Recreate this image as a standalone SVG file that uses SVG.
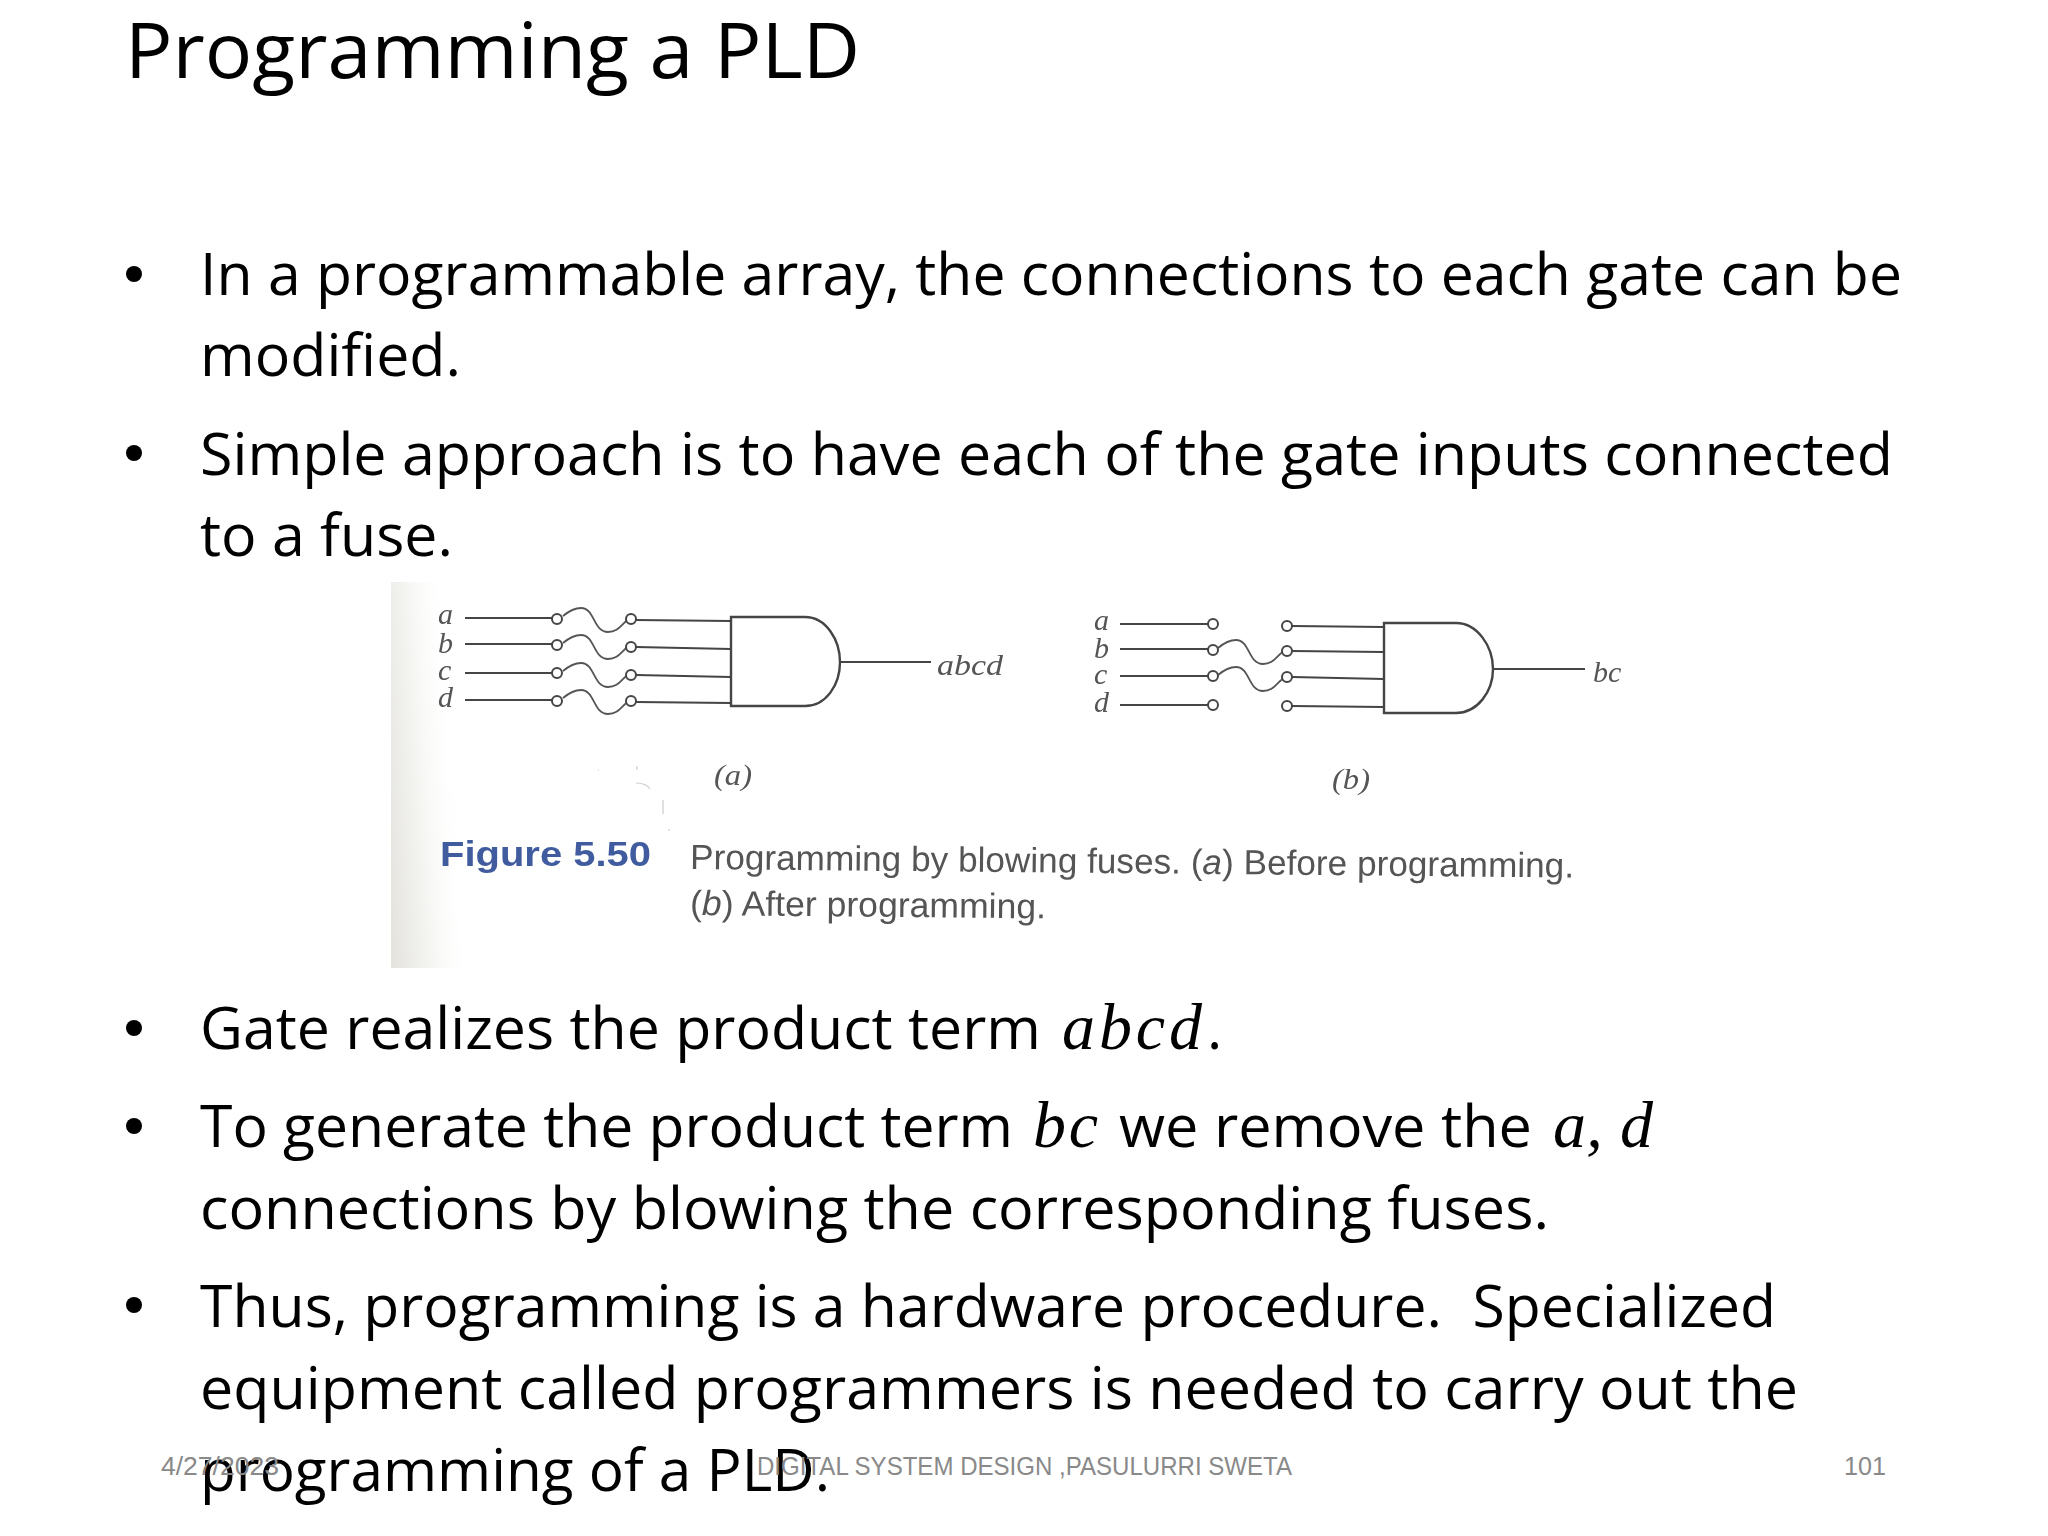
<svg xmlns="http://www.w3.org/2000/svg" width="2048" height="1536" viewBox="0 0 2048 1536">
<style>
text{font-family:"Open Sans","Noto Sans","Liberation Sans",sans-serif;fill:#000}
.title{font-size:76px;font-weight:400}
.body{font-size:58px}
.math{font-family:"Liberation Serif",serif;font-style:italic;font-size:66px}
.foot{font-family:"Liberation Sans",sans-serif;font-size:26px;fill:#898989}
.lbl{font-family:"Liberation Serif",serif;font-style:italic;font-size:30px;fill:#555}
.cap{font-family:"Liberation Sans",sans-serif;font-size:35px;fill:#555}
.fig{font-family:"Liberation Sans",sans-serif;font-weight:bold;font-size:35px;fill:#3f5c9f}
.w{fill:none;stroke:#444;stroke-width:2}
.f{fill:none;stroke:#555;stroke-width:1.8}
.o{fill:#fff;stroke:#444;stroke-width:2}
.g{fill:#fff;stroke:#444;stroke-width:2.4}
</style>
<defs>
<linearGradient id="edge" x1="0" x2="1" y1="0.95" y2="0.6"><stop offset="0" stop-color="#e4e3de"/><stop offset="0.45" stop-color="#f3f3f0"/><stop offset="1" stop-color="#fff" stop-opacity="0"/></linearGradient>
<path id="fuse" d="M0 0C6 -5 11 -8 18 -8C32 -8 30 16 45 16C56 16 58 8 66 3"/>
<circle id="pin" r="5"/>
<filter id="soft"><feGaussianBlur stdDeviation="0.6"/></filter>
</defs>
<rect width="2048" height="1536" fill="#fff"/>
<text class="title" x="125" y="78" textLength="735" lengthAdjust="spacingAndGlyphs">Programming a PLD</text>
<g id="bullets">
<circle cx="134" cy="274" r="8"/><circle cx="134" cy="453" r="8"/><circle cx="134" cy="1028" r="8"/><circle cx="134" cy="1126" r="8"/><circle cx="134" cy="1305" r="8"/>
</g>
<g id="body">
<text class="body" x="200" y="295" textLength="1702" lengthAdjust="spacingAndGlyphs">In a programmable array, the connections to each gate can be</text>
<text class="body" x="200" y="376" textLength="261" lengthAdjust="spacingAndGlyphs">modified.</text>
<text class="body" x="200" y="475" textLength="1693" lengthAdjust="spacingAndGlyphs">Simple approach is to have each of the gate inputs connected</text>
<text class="body" x="200" y="556" textLength="253" lengthAdjust="spacingAndGlyphs">to a fuse.</text>
<text class="body" x="200" y="1049" textLength="841" lengthAdjust="spacingAndGlyphs">Gate realizes the product term</text>
<text class="math" x="1062" y="1049" textLength="140">abcd</text>
<text class="body" x="1207" y="1049">.</text>
<text class="body" x="200" y="1147" textLength="813" lengthAdjust="spacingAndGlyphs">To generate the product term</text>
<text class="math" x="1033" y="1147" textLength="65">bc</text>
<text class="body" x="1119" y="1147" textLength="413" lengthAdjust="spacingAndGlyphs">we remove the</text>
<text class="math" x="1553" y="1147" textLength="100">a, d</text>
<text class="body" x="200" y="1229" textLength="1349" lengthAdjust="spacingAndGlyphs">connections by blowing the corresponding fuses.</text>
<text class="body" x="200" y="1327" textLength="1576" lengthAdjust="spacingAndGlyphs" xml:space="preserve">Thus, programming is a hardware procedure.  Specialized</text>
<text class="body" x="200" y="1409" textLength="1598" lengthAdjust="spacingAndGlyphs">equipment called programmers is needed to carry out the</text>
<text class="body" x="200" y="1491" textLength="630" lengthAdjust="spacingAndGlyphs">programming of a PLD.</text>
</g>
<g id="footer">
<text class="foot" x="161" y="1475" textLength="118" lengthAdjust="spacingAndGlyphs">4/27/2023</text>
<text class="foot" x="757" y="1475" textLength="535" lengthAdjust="spacingAndGlyphs">DIGITAL SYSTEM DESIGN ,PASULURRI SWETA</text>
<text class="foot" x="1844" y="1475" textLength="42" lengthAdjust="spacingAndGlyphs">101</text>
</g>
<g id="figure" filter="url(#soft)">
<rect x="391" y="582" width="70" height="386" fill="url(#edge)"/>
<path d="M598 770h1M637 766v4M636 783q10 0 14 6M663 800v14M668 830h2" fill="none" stroke="#ccc" stroke-width="1.2"/>
<g id="connectors">
<path class="w" d="M465 618H552M465 644H552M465 673H552M465 700H552"/>
<path class="w" d="M636 620L731 621M636 647L731 649M636 675L731 677M636 702L731 703"/>
<path class="w" d="M840 662H931"/>
<path class="w" d="M1120 624H1208M1120 649H1208M1120 676H1208M1120 705H1208"/>
<path class="w" d="M1292 626L1384 627M1292 651L1384 652M1292 677L1384 679M1292 706L1384 707"/>
<path class="w" d="M1493 669H1585"/>
<g class="f">
<use href="#fuse" x="563" y="616"/><use href="#fuse" x="563" y="643"/><use href="#fuse" x="563" y="671"/><use href="#fuse" x="563" y="698"/>
<use href="#fuse" x="1218" y="648"/><use href="#fuse" x="1218" y="675"/>
</g>
</g>
<g id="pins" class="o">
<use href="#pin" x="557" y="619"/><use href="#pin" x="557" y="645"/><use href="#pin" x="557" y="673"/><use href="#pin" x="557" y="701"/>
<use href="#pin" x="631" y="619"/><use href="#pin" x="631" y="647"/><use href="#pin" x="631" y="675"/><use href="#pin" x="631" y="701"/>
<use href="#pin" x="1213" y="624"/><use href="#pin" x="1213" y="650"/><use href="#pin" x="1213" y="676"/><use href="#pin" x="1213" y="705"/>
<use href="#pin" x="1287" y="626"/><use href="#pin" x="1287" y="651"/><use href="#pin" x="1287" y="677"/><use href="#pin" x="1287" y="706"/>
</g>
<g id="gate-a"><path class="g" d="M731 617H805C826 617 840 640 840 662C840 685 826 706 805 706H731Z"/></g>
<g id="gate-b"><path class="g" d="M1384 623H1456C1477 623 1493 646 1493 669C1493 692 1477 713 1456 713H1384Z"/></g>
<g id="labels-a">
<text class="lbl" x="438" y="624">a</text><text class="lbl" x="438" y="653">b</text><text class="lbl" x="438" y="680">c</text><text class="lbl" x="438" y="707">d</text>
<text class="lbl" x="937" y="675" textLength="66" lengthAdjust="spacingAndGlyphs">abcd</text>
<text class="lbl" x="714" y="785" textLength="38" lengthAdjust="spacingAndGlyphs">(a)</text>
</g>
<g id="labels-b">
<text class="lbl" x="1094" y="630">a</text><text class="lbl" x="1094" y="658">b</text><text class="lbl" x="1094" y="684">c</text><text class="lbl" x="1094" y="712">d</text>
<text class="lbl" x="1593" y="682">bc</text>
<text class="lbl" x="1332" y="789" textLength="38" lengthAdjust="spacingAndGlyphs">(b)</text>
</g>
<g id="caption">
<text class="fig" x="440" y="866" textLength="211" lengthAdjust="spacingAndGlyphs">Figure 5.50</text>
<text class="cap" transform="rotate(0.55 690 869)" x="690" y="869" textLength="884" lengthAdjust="spacingAndGlyphs">Programming by blowing fuses. (<tspan font-style="italic">a</tspan>) Before programming.</text>
<text class="cap" transform="rotate(0.55 690 915)" x="690" y="915" textLength="356" lengthAdjust="spacingAndGlyphs">(<tspan font-style="italic">b</tspan>) After programming.</text>
</g>
</g>
</svg>
